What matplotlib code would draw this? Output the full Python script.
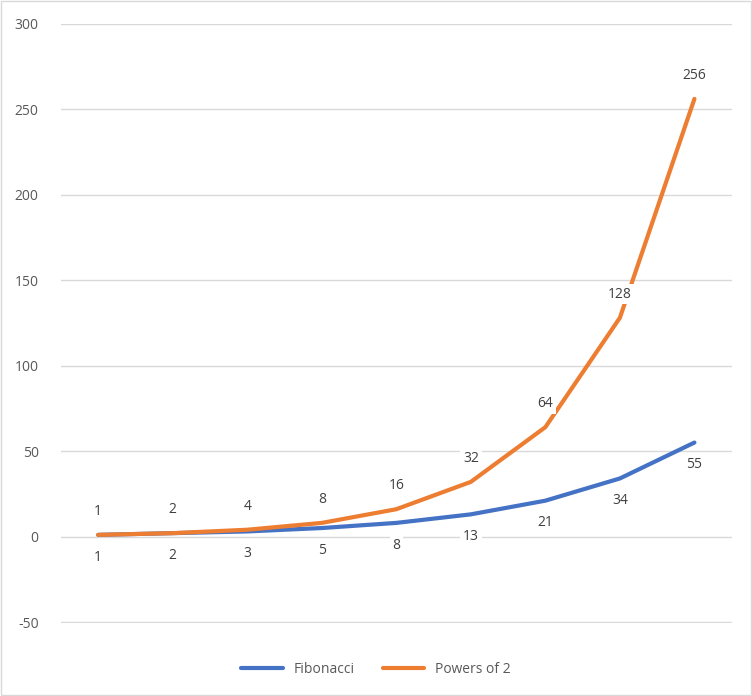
import matplotlib.pyplot as plt
import numpy as np

plt.rcParams["axes.unicode_minus"] = False
plt.rcParams["font.family"] = "Open Sans"

fibonacci = [1, 2, 3, 5, 8, 13, 21, 34, 55]
powers_of_2 = [1, 2, 4, 8, 16, 32, 64, 128, 256]
x = np.arange(len(fibonacci))

fig = plt.figure(figsize=(7.52, 6.96), dpi=100)
ax = fig.add_axes([0.081, 0.105, 0.892, 0.861])

blue = "#4472C4"
orange = "#ED7D31"
grid = "#D9D9D9"
text = "#595959"

ax.plot(x, fibonacci, color=blue, lw=3, label="Fibonacci", solid_capstyle="round")
ax.plot(x, powers_of_2, color=orange, lw=3, label="Powers of 2", solid_capstyle="round")

box = dict(boxstyle="square,pad=0.2", fc="white", ec="none")
for xi, v in zip(x, fibonacci):
    ax.annotate(str(v), (xi, v), xytext=(0, -16), textcoords="offset points",
                ha="center", va="center", fontsize=10, color="#404040", bbox=box)
for xi, v in zip(x, powers_of_2):
    ax.annotate(str(v), (xi, v), xytext=(0, 17), textcoords="offset points",
                ha="center", va="center", fontsize=10, color="#404040", bbox=box)

ax.set_xlim(-0.5, 8.5)
ax.set_ylim(-50.5, 300)
ax.set_yticks(np.arange(-50, 301, 50))
ax.set_xticks([])
ax.grid(axis="y", color=grid, lw=1)
ax.set_axisbelow(True)
for s in ax.spines.values():
    s.set_visible(False)
ax.tick_params(axis="y", length=0, labelsize=10, labelcolor=text, pad=16)

fig.legend(loc="lower center", bbox_to_anchor=(0.5, 0.01), ncol=2, frameon=False,
           fontsize=10, labelcolor=text, handlelength=3, columnspacing=2)
fig.patches.append(plt.Rectangle((0.001, 0.001), 0.998, 0.998, transform=fig.transFigure,
                                 fill=False, ec="#D9D9D9", lw=1))

fig.savefig("out.png", dpi=100)
